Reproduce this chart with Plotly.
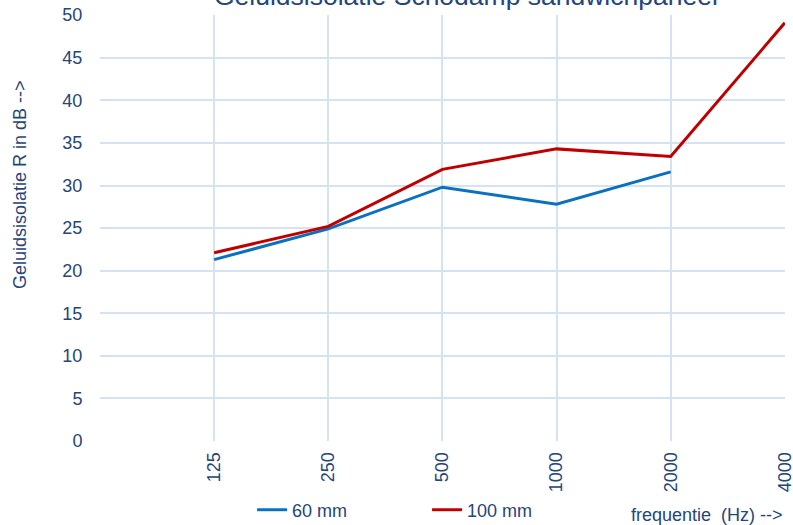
import plotly.graph_objects as go
import math

title = "Geluidsisolatie Schodamp sandwichpaneel"
freqs = [125, 250, 500, 1000, 2000, 4000]
freq_labels = ["125", "250", "500", "1000", "2000", "4000"]
series_60_name = "60 mm"
series_60 = [21.3, 24.9, 29.8, 27.8, 31.6]
series_100_name = "100 mm"
series_100 = [22.1, 25.2, 31.9, 34.3, 33.4, 49.1]
y_ticks = [0, 5, 10, 15, 20, 25, 30, 35, 40, 45, 50]

text_color = "#24467a"
grid_color = "#d5e2f3"
FONT = "Liberation Sans, Arial, sans-serif"

fig = go.Figure()
fig.add_trace(go.Scatter(x=freqs[:len(series_60)], y=series_60, name=series_60_name,
                         mode="lines", line=dict(color="#0a70c0", width=3)))
fig.add_trace(go.Scatter(x=freqs, y=series_100, name=series_100_name,
                         mode="lines", line=dict(color="#c00000", width=3)))

fig.update_layout(
    width=793, height=525,
    margin=dict(l=100, r=8, t=15, b=84, autoexpand=False),
    paper_bgcolor="white", plot_bgcolor="white",
    font=dict(family=FONT, color=text_color, size=18),
    showlegend=True,
    legend=dict(orientation="h", x=0.222, xanchor="left", y=-0.162, yanchor="middle",
                entrywidth=130, entrywidthmode="pixels",
                font=dict(size=18, color=text_color, family=FONT), bgcolor="rgba(0,0,0,0)"),
    xaxis=dict(type="log", range=[math.log10(62.5), math.log10(4000) + 0.0005],
               tickvals=freqs, ticktext=freq_labels, tickangle=-90,
               showgrid=True, gridcolor=grid_color, gridwidth=1.5,
               zeroline=False, showline=False, automargin=False,
               ticks="outside", ticklen=3, tickcolor="rgba(0,0,0,0)",
               ticklabeloverflow="allow",
               tickfont=dict(size=18, color=text_color, family=FONT)),
    yaxis=dict(range=[0, 50.02], tickvals=y_ticks, showgrid=True, gridcolor=grid_color,
               gridwidth=1.5, zeroline=False, showline=False, automargin=False,
               ticks="outside", ticklen=13, tickcolor="rgba(0,0,0,0)",
               ticklabeloverflow="allow",
               tickfont=dict(size=18, color=text_color, family=FONT)),
    annotations=[
        dict(text=title, xref="paper", yref="paper", x=0.535, y=1.0446,
             xanchor="center", yanchor="middle", showarrow=False,
             font=dict(size=26.5, color=text_color, family=FONT)),
        dict(text="Geluidsisolatie R in dB -->", textangle=-90, xref="paper", yref="paper",
             x=-0.1168, y=0.603, xanchor="center", yanchor="middle", showarrow=False,
             font=dict(size=18, color=text_color, family=FONT)),
        dict(text="frequentie&nbsp; (Hz) -->", xref="paper", yref="paper",
             x=1.0, y=-0.174, xanchor="right", yanchor="middle", showarrow=False,
             font=dict(size=18, color=text_color, family=FONT)),
    ],
)

fig.write_html("out.html", config={"displayModeBar": False},
               post_script="document.body.style.margin='0';document.body.style.overflow='hidden';")
